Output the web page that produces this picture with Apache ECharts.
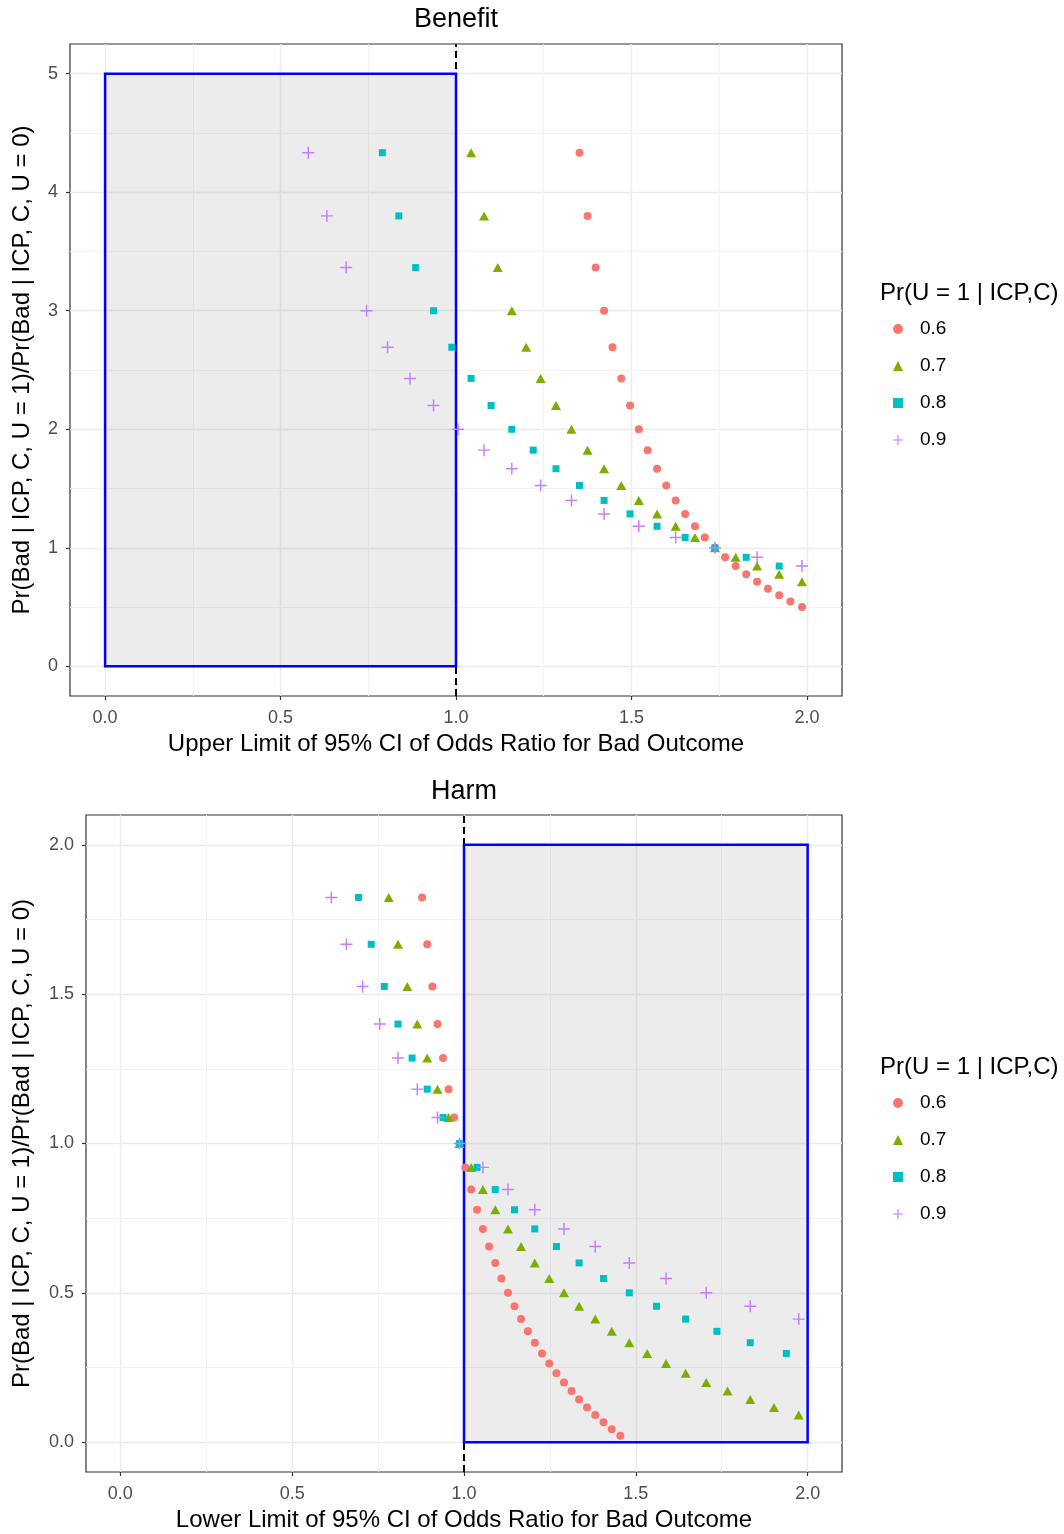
<!DOCTYPE html>
<html>
<head>
<meta charset="utf-8">
<script src="https://cdn.jsdelivr.net/npm/echarts@6/dist/echarts.min.js"></script>
<style>
	html, body { margin: 0; padding: 0; background: #fff; }
	#chart { width: 1064px; height: 1534px; }
</style>
</head>
<body>
<div id="chart"></div>
<script>
// legend levels of Pr(U = 1 | ICP,C)
var levels = ['0.6', '0.7', '0.8', '0.9'];
var colors = ['#F8766D', '#7CAE00', '#00BFC4', '#C77CFF'];

// Benefit panel: y = Pr(Bad|U=1)/Pr(Bad|U=0), x = upper CI limit
var benefitRatio = [4.333, 3.8, 3.364, 3.0, 2.692, 2.429, 2.2, 2.0, 1.824, 1.667, 1.526, 1.4, 1.286, 1.182, 1.087, 1.0, 0.92, 0.846, 0.778, 0.714, 0.655, 0.6, 0.548, 0.5];
var benefitX06 = [1.352, 1.375, 1.398, 1.422, 1.446, 1.471, 1.496, 1.521, 1.546, 1.573, 1.599, 1.626, 1.653, 1.681, 1.709, 1.738, 1.767, 1.797, 1.827, 1.858, 1.889, 1.921, 1.953, 1.986];
var benefitX07 = [1.043, 1.080, 1.119, 1.159, 1.200, 1.241, 1.285, 1.329, 1.375, 1.422, 1.471, 1.521, 1.573, 1.626, 1.681, 1.738, 1.797, 1.858, 1.921, 1.986];
var benefitX08 = [0.790, 0.837, 0.885, 0.936, 0.988, 1.043, 1.100, 1.159, 1.220, 1.285, 1.352, 1.422, 1.496, 1.573, 1.653, 1.738, 1.827, 1.921];
var benefitX09 = [0.579, 0.632, 0.687, 0.745, 0.805, 0.869, 0.936, 1.006, 1.080, 1.159, 1.241, 1.329, 1.422, 1.521, 1.626, 1.738, 1.858, 1.986];

// Harm panel: x = lower CI limit
var harmRatio = [1.824, 1.667, 1.526, 1.4, 1.286, 1.182, 1.087, 1.0, 0.92, 0.846, 0.778, 0.714, 0.655, 0.6, 0.548, 0.5, 0.455, 0.412, 0.371, 0.333, 0.297, 0.263, 0.231, 0.2, 0.171, 0.143, 0.116, 0.091, 0.067, 0.043, 0.021];
var harmX06 = [0.878, 0.893, 0.908, 0.923, 0.939, 0.955, 0.971, 0.987, 1.004, 1.021, 1.038, 1.055, 1.073, 1.091, 1.109, 1.128, 1.147, 1.166, 1.186, 1.206, 1.227, 1.248, 1.269, 1.291, 1.313, 1.335, 1.358, 1.382, 1.406, 1.430, 1.455];
var harmX07 = [0.781, 0.808, 0.835, 0.864, 0.893, 0.923, 0.955, 0.987, 1.021, 1.055, 1.091, 1.128, 1.166, 1.206, 1.248, 1.291, 1.335, 1.382, 1.430, 1.481, 1.533, 1.588, 1.645, 1.705, 1.767, 1.833, 1.902, 1.974];
var harmX08 = [0.693, 0.730, 0.768, 0.808, 0.849, 0.893, 0.939, 0.987, 1.038, 1.091, 1.147, 1.206, 1.269, 1.335, 1.406, 1.481, 1.560, 1.645, 1.736, 1.833, 1.938];
var harmX09 = [0.614, 0.658, 0.705, 0.755, 0.808, 0.864, 0.923, 0.987, 1.055, 1.128, 1.206, 1.291, 1.382, 1.481, 1.588, 1.705, 1.833, 1.974];

// shaded regions [x0, y0, x1, y1] and reference line
var benefitBox = [0, 0, 1, 5];
var harmBox = [1, 0, 2, 2];
var refLine = 1;

// ticks
var xTicks = [0, 0.5, 1, 1.5, 2];
var xMinor = [0.25, 0.75, 1.25, 1.75];
var yTicksTop = [0, 1, 2, 3, 4, 5];
var yMinorTop = [0.5, 1.5, 2.5, 3.5, 4.5];
var yTicksBottom = [0, 0.5, 1, 1.5, 2];
var yMinorBottom = [0.25, 0.75, 1.25, 1.75];

var font = '"Liberation Sans", Arial, sans-serif';
var plusPath = 'path://M0,4.4H10V5.6H0Z M4.4,0H5.6V10H4.4Z';
var symbols = ['circle', 'triangle', 'rect', plusPath];
var symbolSizes = [8, [10, 9], 7, 12];

function zip(xs, ys) {
	var out = [];
	xs.forEach(function(x, i) {
		out.push([x, ys[i]]);
	});
	return out;
}

function renderBox(params, api) {
	var p0 = api.coord([api.value(0), api.value(1)]);
	var p1 = api.coord([api.value(2), api.value(3)]);
	return {
		type: 'rect',
		shape: {
			x: Math.min(p0[0], p1[0]),
			y: Math.min(p0[1], p1[1]),
			width: Math.abs(p1[0] - p0[0]),
			height: Math.abs(p1[1] - p0[1])
		},
		style: {
			fill: 'rgba(128,128,128,0.15)',
			stroke: '#0000ff',
			lineWidth: 2.5
		}
	};
}

function xAxisFor(gridIndex, name) {
	return {
		gridIndex: gridIndex,
		type: 'value',
		min: -0.1,
		max: 2.1,
		axisLine: { show: false, onZero: false },
		axisTick: { show: true, length: 4, customValues: xTicks, lineStyle: { color: '#333', width: 1.2 } },
		axisLabel: {
			customValues: xTicks,
			color: '#4d4d4d',
			fontSize: 18,
			fontFamily: font,
			margin: 13,
			formatter: function(v) { return v.toFixed(1); }
		},
		splitLine: { show: true, lineStyle: { color: '#ebebeb', width: 1.4 } },
		name: name,
		nameLocation: 'middle',
		nameGap: 36,
		nameTextStyle: { color: '#000', fontSize: 24, fontFamily: font }
	};
}

function yAxisFor(gridIndex, min, max, ticks, digits, gap) {
	return {
		gridIndex: gridIndex,
		type: 'value',
		min: min,
		max: max,
		axisLine: { show: false, onZero: false },
		axisTick: { show: true, length: 4, customValues: ticks, lineStyle: { color: '#333', width: 1.2 } },
		axisLabel: {
			customValues: ticks,
			color: '#4d4d4d',
			fontSize: 18,
			fontFamily: font,
			margin: 12,
			formatter: function(v) { return v.toFixed(digits); }
		},
		splitLine: { show: true, lineStyle: { color: '#ebebeb', width: 1.4 } },
		name: 'Pr(Bad | ICP, C, U = 1)/Pr(Bad | ICP, C, U = 0)',
		nameLocation: 'middle',
		nameGap: gap,
		nameTextStyle: { color: '#000', fontSize: 24, fontFamily: font }
	};
}

// helper series: minor grid lines + dashed reference line + shaded box
function panelSeries(gi, box, minorX, minorY) {
	var minorLines = [];
	minorX.forEach(function(v) { minorLines.push({ xAxis: v }); });
	minorY.forEach(function(v) { minorLines.push({ yAxis: v }); });
	return [{
		name: 'minor' + gi,
		type: 'line',
		xAxisIndex: gi,
		yAxisIndex: gi,
		data: [],
		z: 1,
		silent: true,
		markLine: {
			z: 1,
			silent: true,
			symbol: 'none',
			label: { show: false },
			lineStyle: { color: '#f2f2f2', width: 1, type: 'solid' },
			data: minorLines
		}
	}, {
		name: 'ref' + gi,
		type: 'line',
		xAxisIndex: gi,
		yAxisIndex: gi,
		data: [],
		z: 2,
		silent: true,
		markLine: {
			z: 2,
			silent: true,
			symbol: 'none',
			label: { show: false },
			lineStyle: { color: '#000', width: 2, type: [7, 4] },
			data: [{ xAxis: refLine }]
		}
	}, {
		name: 'box' + gi,
		type: 'custom',
		xAxisIndex: gi,
		yAxisIndex: gi,
		renderItem: renderBox,
		silent: true,
		z: 3,
		encode: { x: [0, 2], y: [1, 3] },
		data: [box]
	}];
}

function scatterSeries(gi, xsList, ratio) {
	return xsList.map(function(xs, i) {
		return {
			name: levels[i],
			type: 'scatter',
			xAxisIndex: gi,
			yAxisIndex: gi,
			symbol: symbols[i],
			symbolSize: symbolSizes[i],
			symbolKeepAspect: true,
			itemStyle: { color: colors[i], opacity: 1 },
			z: 6,
			data: zip(xs, ratio)
		};
	});
}

function legendFor(top) {
	return {
		orient: 'vertical',
		left: 893,
		top: top,
		padding: 0,
		itemWidth: 10,
		itemHeight: 10,
		itemGap: 15,
		data: levels,
		textStyle: { color: '#000', fontSize: 19, fontFamily: font, lineHeight: 22, padding: [0, 0, 0, 12] }
	};
}

var chart = echarts.init(document.getElementById('chart'));
chart.setOption({
	animation: false,
	backgroundColor: '#fff',
	color: colors,
	grid: [
		{ left: 70, top: 44, width: 772, height: 652, show: true, borderColor: '#333', borderWidth: 1.2, backgroundColor: '#fff' },
		{ left: 86, top: 815, width: 756, height: 657, show: true, borderColor: '#333', borderWidth: 1.2, backgroundColor: '#fff' }
	],
	xAxis: [
		xAxisFor(0, 'Upper Limit of 95% CI of Odds Ratio for Bad Outcome'),
		xAxisFor(1, 'Lower Limit of 95% CI of Odds Ratio for Bad Outcome')
	],
	yAxis: [
		yAxisFor(0, -0.25, 5.25, yTicksTop, 0, 36),
		yAxisFor(1, -0.1, 2.1, yTicksBottom, 1, 52)
	],
	legend: [legendFor(318), legendFor(1092)],
	graphic: [
		{ type: 'text', x: 456, y: 20, style: { text: 'Benefit', fontSize: 27, fontFamily: font, fill: '#000', textAlign: 'center', textVerticalAlign: 'middle' } },
		{ type: 'text', x: 464, y: 792, style: { text: 'Harm', fontSize: 27, fontFamily: font, fill: '#000', textAlign: 'center', textVerticalAlign: 'middle' } },
		{ type: 'text', x: 880, y: 293, style: { text: 'Pr(U = 1 | ICP,C)', fontSize: 24, fontFamily: font, fill: '#000', textAlign: 'left', textVerticalAlign: 'middle' } },
		{ type: 'text', x: 880, y: 1067, style: { text: 'Pr(U = 1 | ICP,C)', fontSize: 24, fontFamily: font, fill: '#000', textAlign: 'left', textVerticalAlign: 'middle' } }
	],
	series: [].concat(
		panelSeries(0, benefitBox, xMinor, yMinorTop),
		scatterSeries(0, [benefitX06, benefitX07, benefitX08, benefitX09], benefitRatio),
		panelSeries(1, harmBox, xMinor, yMinorBottom),
		scatterSeries(1, [harmX06, harmX07, harmX08, harmX09], harmRatio)
	)
});
</script>
</body>
</html>
